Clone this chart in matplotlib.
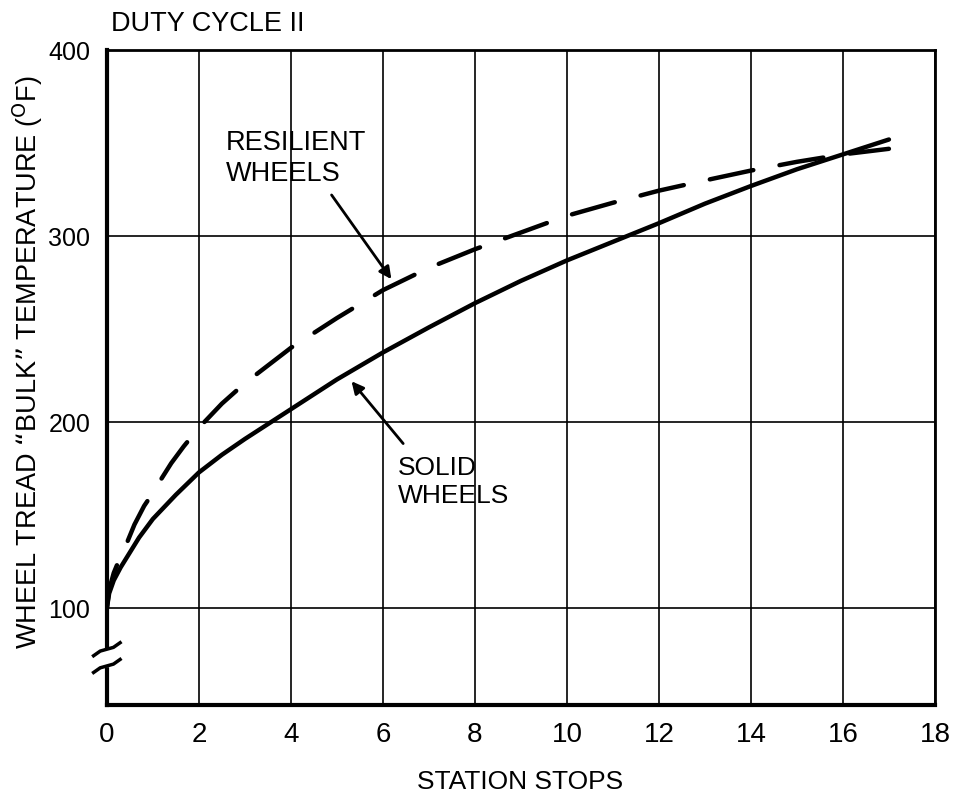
import matplotlib
matplotlib.use('Agg')
import matplotlib.pyplot as plt
from matplotlib.patches import Rectangle

# station stops vs wheel tread bulk temperature (deg F)
solid_x = [0, 0.05, 0.15, 0.3, 0.45, 0.7, 1.0, 1.5, 2, 2.5, 3, 4, 5, 6, 7, 8, 9, 10,
           11, 12, 13, 14, 15, 16, 17]
solid_y = [100, 108, 115, 122, 128, 138, 148, 161, 173, 182.5, 191, 207, 223, 237.5,
           251, 264, 276, 287, 297, 307, 317.5, 327, 336, 344, 352]

resil_x = [0, 0.05, 0.15, 0.3, 0.45, 0.6, 0.81, 1.0, 1.17, 1.4, 1.67, 2, 2.5, 3, 4, 5,
           6, 7, 8, 9, 10, 11, 12, 13, 14, 15, 16, 17]
resil_y = [100, 110, 119, 128, 136, 145, 155, 162, 169, 178, 187, 197, 210, 221, 240,
           256, 271, 283, 293, 302, 311, 318, 324.5, 330, 335.3, 340, 344, 347]

x_ticks = [0, 2, 4, 6, 8, 10, 12, 14, 16, 18]
y_ticks = [100, 200, 300, 400]

plt.rcParams['font.family'] = ['Liberation Sans', 'DejaVu Sans']

fig = plt.figure(figsize=(9.54, 7.97), dpi=100)
ax = fig.add_axes([0.112, 0.1154, 0.868, 0.8216])

ax.plot(solid_x, solid_y, color='black', lw=3.2, solid_capstyle='round',
        solid_joinstyle='round')
ax.plot(resil_x, resil_y, color='black', lw=3.2, dashes=(10, 6), dash_capstyle='round')

ax.set_xlim(0, 18)
ax.set_ylim(48, 400)
ax.set_xticks(x_ticks)
ax.set_yticks(y_ticks)
ax.set_xticklabels([str(t) for t in x_ticks], fontsize=20)
ax.set_yticklabels([str(t) for t in y_ticks], fontsize=18)
ax.tick_params(length=0, pad=12)
ax.grid(True, color='black', lw=1.2)
ax.set_axisbelow(True)

for side, w in [('left', 3), ('bottom', 3), ('top', 2), ('right', 2)]:
    ax.spines[side].set_linewidth(w)

fig.text(520 / 954, 1 - 782 / 797, 'STATION STOPS', fontsize=19,
         ha='center', va='center')
fig.text(28 / 954, 1 - 362 / 797,
         'WHEEL TREAD \u201cBULK\u201d TEMPERATURE ($^{\\mathrm{O}}$F)',
         fontsize=19.5, rotation=90, ha='center', va='center')
fig.text(0.116, 1 - 31 / 797, 'DUTY CYCLE II', fontsize=19.5, va='baseline')

ax.annotate('', xy=(6.22, 275.7), xytext=(4.85, 323.4),
            arrowprops=dict(arrowstyle='-|>', color='black', lw=2, mutation_scale=18))
ax.text(2.59, 357, 'RESILIENT\nWHEELS', fontsize=19.5, va='top', ha='left',
        linespacing=1.25)

ax.annotate('', xy=(5.28, 223.2), xytext=(6.48, 187.4),
            arrowprops=dict(arrowstyle='-|>', color='black', lw=2, mutation_scale=18))
ax.text(6.33, 182, 'SOLID\nWHEELS', fontsize=19, va='top', ha='left', linespacing=1.25)

# axis break marks on the y spine
trans = ax.get_yaxis_transform()
ax.add_patch(Rectangle((-0.006, 69), 0.012, 9, transform=trans, color='white',
                       clip_on=False, zorder=5))
for yb in (78, 69):
    ax.plot([-0.016, -0.008, 0.008, 0.016], [yb - 3.5, yb - 1, yb + 1, yb + 3.5],
            color='black', lw=2.5, transform=trans, clip_on=False, zorder=6)

fig.savefig('out.png', dpi=100)
